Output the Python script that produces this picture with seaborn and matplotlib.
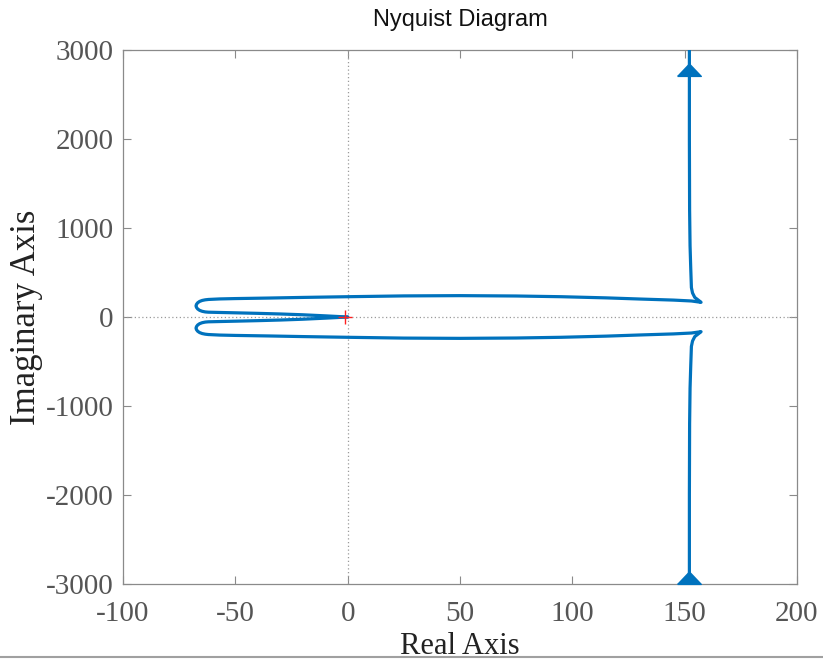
import numpy as np
import pandas as pd
import matplotlib
matplotlib.use("Agg")
import matplotlib.pyplot as plt
from matplotlib.lines import Line2D
import seaborn as sns

# ---- data (upper half, w<0 branch: from +j*inf to origin) ----
upper_re = [152.1, 152.1, 152.2, 152.4, 152.7, 153.0, 153.5, 154.5, 156.3, 157.3,
            153.0, 145.0, 130.0, 115.0, 95.0, 75.0, 50.0, 25.0, 0.0, -20.0,
            -35.0, -50.0, -57.0, -62.0, -63.4, -64.75, -65.9, -66.76, -67.3, -67.5,
            -67.3, -66.76, -65.9, -64.75, -63.4, -62.0, -57.0, -50.0, -40.0, -30.0,
            -20.0, -10.0, 0.0]
upper_im = [3000, 2000, 1200, 800, 550, 330, 270, 220, 185, 165,
            180, 190, 202, 215, 228, 236, 240, 237, 228, 220,
            213, 207, 203, 197, 193, 186, 175, 160, 142, 125,
            108, 90, 75, 64, 57, 54, 51, 47, 41, 34,
            25, 13, 0]
# lower half is the complex conjugate (w>0 branch)
lower_re = upper_re
lower_im = [-v for v in upper_im]

arrow_im = [2770, -2930]        # arrow centres on the vertical branches
critical_point = (-1.0, 0.0)    # the -1 point

x_ticks = [-100, -50, 0, 50, 100, 150, 200]
y_ticks = [-3000, -2000, -1000, 0, 1000, 2000, 3000]

df = pd.DataFrame({
    "re": upper_re + lower_re,
    "im": upper_im + lower_im,
    "branch": ["upper"] * len(upper_re) + ["lower"] * len(lower_re),
})

sns.set_style("white")
plt.rcParams["axes.unicode_minus"] = False

BLUE = "#0072BD"
GREY = "#8a8a8a"
TICKC = "#555555"

fig = plt.figure(figsize=(8.23, 6.62), dpi=100)
ax = fig.add_axes([123 / 823, 1 - 584 / 662, (797 - 123) / 823, (584 - 50) / 662])

# zero lines
ax.axhline(0, color="#9a9a9a", lw=0.9, ls=(0, (1, 2)), zorder=1)
ax.axvline(0, color="#9a9a9a", lw=0.9, ls=(0, (1, 2)), zorder=1)

sns.lineplot(data=df, x="re", y="im", units="branch", estimator=None, sort=False,
             color=BLUE, lw=2.3, ax=ax, legend=False, zorder=3)

# arrows (flat filled triangles) placed on the vertical branches
tri = [(-1.0, -0.5), (1.0, -0.5), (0.0, 0.55), (-1.0, -0.5)]
vert_re = np.interp(arrow_im[0], upper_im[:6][::-1], upper_re[:6][::-1])
ax.plot([vert_re, vert_re], arrow_im, ls="none", marker=tri, markersize=17,
        color=BLUE, mec=BLUE, zorder=4, clip_on=False)

ax.plot([critical_point[0]], [critical_point[1]], marker="+", color="#ff2020",
        markersize=10, mew=1.0, zorder=5)

ax.set_xlim(-100, 200)
ax.set_ylim(-3000, 3000)
ax.set_xticks(x_ticks)
ax.set_yticks(y_ticks)
ax.set_xticklabels([str(t) for t in x_ticks])
ax.set_yticklabels([str(t) for t in y_ticks])

serif = ["Liberation Serif", "DejaVu Serif"]
for lab in ax.get_xticklabels() + ax.get_yticklabels():
    lab.set_fontfamily(serif)
    lab.set_fontsize(21)
    lab.set_color(TICKC)

ax.tick_params(direction="in", length=6, width=0.8, color=GREY,
               top=True, right=True, bottom=True, left=True)
ax.tick_params(axis="x", pad=12)
ax.tick_params(axis="y", pad=7)

for s in ax.spines.values():
    s.set_color(GREY)
    s.set_linewidth(0.9)
    s.set_visible(True)

ax.set_xlabel("Real Axis", family=serif, fontsize=22, color="#222222", labelpad=4)
ax.set_ylabel("Imaginary Axis", family=serif, fontsize=25, color="#222222", labelpad=2)
ax.set_title("Nyquist Diagram", family=["Liberation Sans", "DejaVu Sans"],
             fontsize=17, color="#111111", pad=17)

# thin grey border line at the bottom of the image
fig.add_artist(Line2D([0, 1], [1 - 657 / 662, 1 - 657 / 662], color="#a0a0a0", lw=1.5))

fig.savefig("out.png", dpi=100)
